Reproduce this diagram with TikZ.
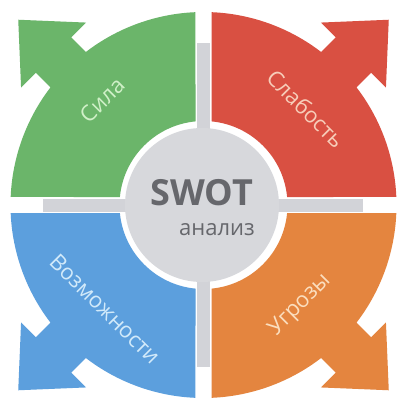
\documentclass[tikz,border=0pt]{standalone}
\usepackage{fontspec}
\setmainfont{Open Sans}
\definecolor{qgreen}{RGB}{107,181,106}
\definecolor{qred}{RGB}{217,80,66}
\definecolor{qblue}{RGB}{92,159,221}
\definecolor{qorange}{RGB}{228,133,63}
\definecolor{cgrey}{RGB}{215,216,220}
\definecolor{bgrey}{RGB}{210,211,216}
\definecolor{tgrey}{RGB}{102,103,108}
\definecolor{tgreen}{RGB}{208,240,200}
\definecolor{tred}{RGB}{247,205,185}
\definecolor{tblue}{RGB}{210,234,250}
\definecolor{torange}{RGB}{251,222,190}
\newcommand\quadshape[1]{%
  \fill[#1] (267.62:193) arc[start angle=267.62,end angle=232.44,radius=193]
    -- (-132.23,-167.58) -- (-117.38,-182.43) -- (-185.26,-185.26)
    -- (-182.43,-117.38) -- (-167.58,-132.23)
    -- (217.56:193) arc[start angle=217.56,end angle=182.38,radius=193]
    -- (185.465:84) arc[start angle=185.465,end angle=264.535,radius=84] -- cycle;}
\tikzset{qlabel/.style={font=\fontsize{22}{26}\selectfont, inner sep=0pt}}
\begin{document}
\begin{tikzpicture}[x=1pt,y=-1pt]
\useasboundingbox[fill=white] (0,0) rectangle (398,399);
\fill[bgrey] (197,43) rectangle (210,367);
\fill[bgrey] (43,199) rectangle (363,212);
\begin{scope}[shift={(203.5,205)}]
  \quadshape{qgreen}
\end{scope}
\begin{scope}[shift={(203.5,205)},xscale=-1]
  \quadshape{qred}
\end{scope}
\begin{scope}[shift={(203.5,205)},yscale=-1]
  \quadshape{qblue}
\end{scope}
\begin{scope}[shift={(203.5,205)},xscale=-1,yscale=-1]
  \quadshape{qorange}
\end{scope}
\fill[cgrey] (202,205) circle[radius=77];
\node[qlabel, text=tgreen, rotate=45] (s) at (102,100) {Сила};
\node[qlabel, text=tred, rotate=-45] (w) at (306,109) {Слабость};
\node[qlabel, text=tblue, rotate=-45] (o) at (105,309) {Возможности};
\node[qlabel, text=torange, rotate=45] (t) at (300,305) {Угрозы};
\node[font=\fontsize{36}{40}\selectfont\bfseries, text=tgrey, inner sep=0pt] (swot) at (202,193) {SWOT};
\node[font=\fontsize{22}{26}\selectfont, text=tgrey, inner sep=0pt] (an) at (217,230) {анализ};
\end{tikzpicture}
\end{document}
